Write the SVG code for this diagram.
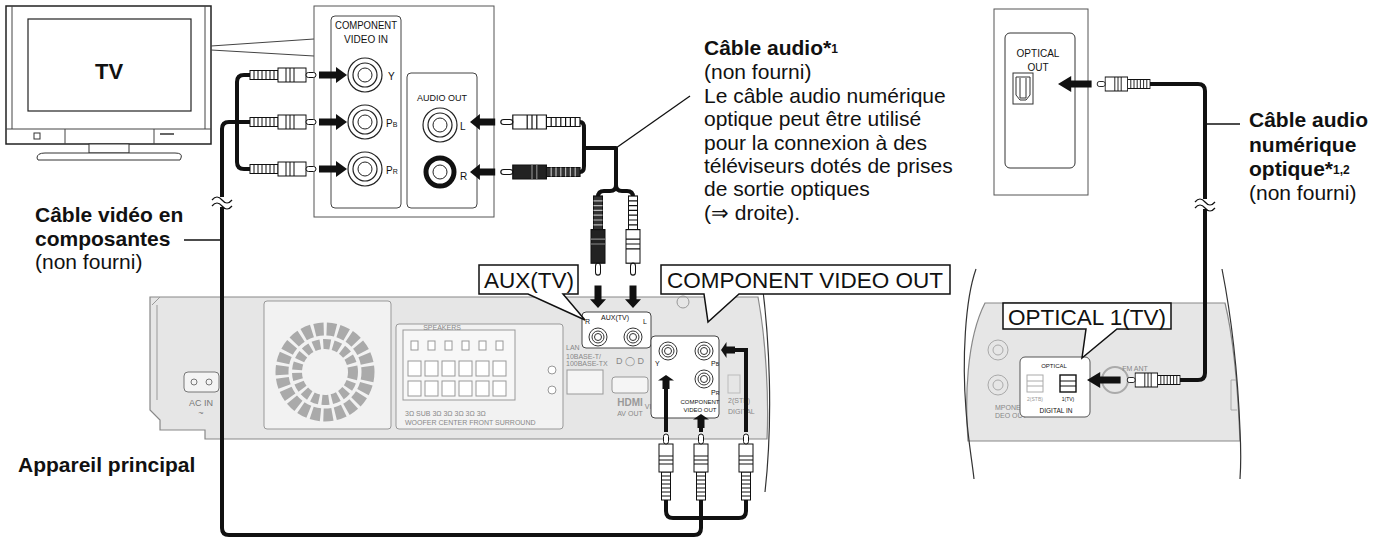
<svg xmlns="http://www.w3.org/2000/svg" xmlns:xlink="http://www.w3.org/1999/xlink" width="1379" height="540" viewBox="0 0 1379 540">
<style>
text{font-family:"Liberation Sans",Arial,sans-serif;fill:#111}
.b{font-weight:bold}
.lbl{font-size:21px}
.sm{font-size:10px}
.tiny{font-size:7px;fill:#888}
.dev{fill:#e6e6e6;stroke:#888;stroke-width:1.2}
.dp{fill:#f2f2f2;stroke:#999;stroke-width:1}
.cab{fill:none;stroke:#111;stroke-width:4;stroke-linejoin:round;stroke-linecap:butt}
.thin{fill:none;stroke:#111;stroke-width:1.3}
.call{fill:#fff;stroke:#111;stroke-width:1.5}
.big{font-size:22.5px}
</style>
<defs>
<g id="plug">
<rect x="0" y="-4.5" width="28" height="9" fill="#fff" stroke="#111"/>
<path d="M4,-4.5v9M8,-4.5v9M12,-4.5v9M16,-4.5v9M20,-4.5v9M24,-4.5v9" stroke="#111" stroke-width="1"/>
<rect x="28" y="-7" width="28" height="14" fill="#fff" stroke="#111"/>
<path d="M36,-7v14M40,-7v14M44,-7v14" stroke="#111"/>
<rect x="56" y="-2.5" width="10" height="5" rx="2.5" fill="#fff" stroke="#111"/>
</g>
<g id="plugB">
<rect x="0" y="-4.5" width="28" height="9" fill="#333" stroke="#111"/>
<path d="M4,-4.5v9M8,-4.5v9M12,-4.5v9M16,-4.5v9M20,-4.5v9M24,-4.5v9" stroke="#bbb" stroke-width="1"/>
<rect x="28" y="-7" width="28" height="14" fill="#222" stroke="#111"/>
<path d="M36,-7v14M40,-7v14" stroke="#888"/>
<rect x="56" y="-2.5" width="10" height="5" rx="2.5" fill="#fff" stroke="#111"/>
</g>
<polygon id="arr" points="-28,-3.5 -11,-3.5 -11,-8 0,0 -11,8 -11,3.5 -28,3.5" fill="#111"/>
<g id="jack">
<circle r="17" fill="#fff" stroke="#222" stroke-width="1.2"/>
<circle r="12" fill="none" stroke="#222" stroke-width="1.2"/>
<circle r="7" fill="none" stroke="#222" stroke-width="1"/>
</g>
<g id="jk">
<circle r="9" fill="#fff" stroke="#333" stroke-width="1"/>
<circle r="6" fill="none" stroke="#333"/>
<circle r="3.5" fill="none" stroke="#333"/>
</g>
</defs>

<!-- TV -->
<g id="tv">
<rect x="6" y="6" width="205" height="138" fill="#fff" stroke="#222" stroke-width="1.5"/>
<path d="M12,6v123M205,6v123M6,129h205M65,129v15M154,129v15" stroke="#444" fill="none"/>
<rect x="28" y="19" width="163" height="92" fill="#fff" stroke="#222" stroke-width="1.2"/>
<rect x="34" y="133" width="6" height="6" fill="none" stroke="#333"/>
<path d="M160,134h14" stroke="#333" stroke-width="1.5"/>
<rect x="89" y="144" width="40" height="9" fill="#fff" stroke="#333"/>
<path d="M45,153H175Q183,153 181,158L180,160H38L37,158Q37,153 45,153Z" fill="#fff" stroke="#333"/>
<text x="109" y="79" text-anchor="middle" class="b" font-size="22">TV</text>
</g>

<!-- TV panel callout -->
<g id="tvpanel">
<path d="M211,46L314,39M211,50L314,56" stroke="#444" fill="none"/>
<rect x="314" y="6" width="180" height="211" fill="#fff" stroke="#555"/>
<rect x="331" y="16" width="70" height="192" rx="4" fill="#fff" stroke="#444"/>
<text x="366" y="29" text-anchor="middle" class="sm" textLength="62" lengthAdjust="spacingAndGlyphs">COMPONENT</text>
<text x="366" y="43" text-anchor="middle" class="sm">VIDEO IN</text>
<use href="#jack" x="365" y="75"/>
<use href="#jack" x="365" y="122"/>
<use href="#jack" x="365" y="169"/>
<text x="388" y="80" class="sm">Y</text>
<text x="386" y="127" class="sm">P<tspan font-size="7">B</tspan></text>
<text x="386" y="174" class="sm">P<tspan font-size="7">R</tspan></text>
<rect x="407" y="73" width="70" height="135" rx="4" fill="#fff" stroke="#444"/>
<text x="442" y="101" text-anchor="middle" font-size="9">AUDIO OUT</text>
<use href="#jack" x="440" y="125"/>
<circle cx="440" cy="172" r="14" fill="#fff" stroke="#111" stroke-width="5"/>
<circle cx="440" cy="172" r="7" fill="none" stroke="#222"/>
<text x="460" y="130" class="sm">L</text>
<text x="460" y="180" class="sm">R</text>
</g>

<!-- main unit -->
<g id="unit">
<path class="dev" d="M150,297H758C766,340 769,400 767,439H205V430H160L160,420L150,410Z"/>
<path d="M761,275C770,340 773,420 765,492" fill="none" stroke="#333" stroke-width="1.2"/>
<path d="M157,305v95M160,297l-8,8" stroke="#999" fill="none"/>
<rect x="184" y="372" width="35" height="20" rx="4" fill="#f4f4f4" stroke="#777"/>
<circle cx="194" cy="382" r="3" fill="none" stroke="#777"/><circle cx="209" cy="382" r="3" fill="none" stroke="#777"/>
<text x="201" y="406" text-anchor="middle" font-size="9" style="fill:#777">AC IN</text>
<text x="201" y="416" text-anchor="middle" font-size="9" style="fill:#777">~</text>
<rect x="264" y="301" width="127" height="128" rx="3" class="dp"/>
<circle cx="325" cy="372" r="43" fill="none" stroke="#aaa" stroke-width="13" stroke-dasharray="9 3"/>
<circle cx="325" cy="372" r="28" fill="none" stroke="#aaa" stroke-width="10" stroke-dasharray="7 3"/>
<rect x="396" y="324" width="167" height="105" rx="3" class="dp"/>
<rect x="403" y="330" width="112" height="70" fill="#f7f7f7" stroke="#999"/>
<text x="442" y="330" text-anchor="middle" class="tiny">SPEAKERS</text>
<g fill="#fff" stroke="#999">
<rect x="411" y="341" width="7" height="9"/><rect x="428" y="341" width="7" height="9"/><rect x="445" y="341" width="7" height="9"/><rect x="462" y="341" width="7" height="9"/><rect x="479" y="341" width="7" height="9"/><rect x="496" y="341" width="7" height="9"/>
<rect x="408" y="361" width="13" height="15"/><rect x="425" y="361" width="13" height="15"/><rect x="442" y="361" width="13" height="15"/><rect x="459" y="361" width="13" height="15"/><rect x="476" y="361" width="13" height="15"/><rect x="493" y="361" width="13" height="15"/>
<rect x="408" y="381" width="13" height="15"/><rect x="425" y="381" width="13" height="15"/><rect x="442" y="381" width="13" height="15"/><rect x="459" y="381" width="13" height="15"/><rect x="476" y="381" width="13" height="15"/><rect x="493" y="381" width="13" height="15"/>
<circle cx="552" cy="370" r="4"/><circle cx="552" cy="390" r="4"/>
</g>
<text x="405" y="416" class="tiny">3Ω SUB 3Ω  3Ω  3Ω  3Ω  3Ω</text>
<text x="405" y="425" class="tiny">WOOFER CENTER FRONT SURROUND</text>
<text x="566" y="350" class="tiny">LAN</text>
<text x="566" y="359" class="tiny">10BASE-T/</text>
<text x="566" y="366" class="tiny">100BASE-TX</text>
<rect x="567" y="370" width="36" height="24" fill="#f5f5f5" stroke="#999"/>
<text x="630" y="364" text-anchor="middle" font-size="9" style="fill:#888">D ◯ D</text>
<rect x="612" y="377" width="36" height="16" rx="3" fill="#f5f5f5" stroke="#999"/>
<text x="630" y="406" text-anchor="middle" font-size="10" font-weight="bold" style="fill:#999">HDMI</text>
<text x="630" y="416" text-anchor="middle" class="tiny">AV OUT</text>
<rect x="582" y="312" width="69" height="36" rx="4" fill="#fff" stroke="#444"/>
<text x="615" y="320" text-anchor="middle" font-size="7">AUX(TV)</text>
<text x="585" y="324" font-size="7">R</text><text x="643" y="324" font-size="7">L</text>
<use href="#jk" x="598" y="337"/><use href="#jk" x="633" y="337"/>
<circle cx="668" cy="381" r="10" fill="#ddd" stroke="#999"/>
<text x="664" y="409" text-anchor="middle" class="tiny">VIDEO OUT</text>
<rect x="651" y="336" width="68" height="82" rx="4" fill="#fff" stroke="#444"/>
<use href="#jk" x="668" y="351"/><use href="#jk" x="704" y="351"/><use href="#jk" x="704" y="379"/>
<text x="655" y="366" font-size="7">Y</text>
<text x="711" y="366" font-size="7">P<tspan font-size="5">B</tspan></text>
<text x="711" y="395" font-size="7">P<tspan font-size="5">R</tspan></text>
<text x="700" y="404" text-anchor="middle" font-size="6">COMPONENT</text>
<text x="700" y="412" text-anchor="middle" font-size="6">VIDEO OUT</text>
<rect x="728" y="375" width="12" height="18" fill="none" stroke="#bbb"/>
<text x="728" y="403" class="tiny">2(STB)</text>
<text x="728" y="414" class="tiny">DIGITAL</text>
<circle cx="683" cy="302" r="6" fill="none" stroke="#999"/>
</g>

<!-- right unit -->
<g id="unit2">
<path class="dev" d="M985,303H1225C1234,340 1238,390 1240,441H968C965,400 966,340 985,303Z" stroke="none"/>
<path d="M976,269C965,300 962,360 966,410C968,440 972,460 974,479" fill="none" stroke="#333" stroke-width="1.2"/>
<path d="M1222,269C1232,320 1238,380 1240,430C1241,450 1241,465 1240,479" fill="none" stroke="#333" stroke-width="1.2"/>
<path d="M1236,380h-5v30h6" fill="none" stroke="#aaa"/>
<circle cx="998" cy="350" r="10" fill="none" stroke="#aaa"/><circle cx="998" cy="350" r="5" fill="none" stroke="#aaa"/>
<circle cx="998" cy="385" r="10" fill="none" stroke="#aaa"/><circle cx="998" cy="385" r="5" fill="none" stroke="#aaa"/>
<text x="995" y="410" class="tiny">MPONENT</text><text x="995" y="418" class="tiny">DEO OUT</text>
<circle cx="1115" cy="380" r="13" fill="none" stroke="#aaa" stroke-width="2"/>
<text x="1135" y="371" text-anchor="middle" class="tiny">FM ANT</text>
<rect x="1020" y="357" width="70" height="60" rx="5" fill="#fff" stroke="#555"/>
<text x="1054" y="368" text-anchor="middle" font-size="6">OPTICAL</text>
<rect x="1027" y="375" width="16" height="17" fill="#fff" stroke="#aaa"/>
<path d="M1027,381h16M1027,386h16" stroke="#aaa"/>
<rect x="1060" y="375" width="16" height="17" fill="#fff" stroke="#111" stroke-width="1.4"/>
<path d="M1060,381h16M1060,386h16" stroke="#111"/>
<text x="1035" y="401" text-anchor="middle" font-size="5" style="fill:#999">2(STB)</text>
<text x="1068" y="401" text-anchor="middle" font-size="5">1(TV)</text>
<text x="1056" y="413" text-anchor="middle" font-size="6.5">DIGITAL IN</text>
<path class="call" d="M1003,303H1171V329H1117L1082,358L1086,329H1003Z"/>
<text x="1087" y="325" text-anchor="middle" class="big">OPTICAL 1(TV)</text>
</g>

<!-- TV optical -->
<g id="tvopt">
<rect x="994" y="9" width="94" height="186" fill="#fff" stroke="#555"/>
<rect x="1005" y="33" width="70" height="135" rx="5" fill="#fff" stroke="#333"/>
<text x="1038" y="57" text-anchor="middle" class="sm">OPTICAL</text>
<text x="1038" y="71" text-anchor="middle" class="sm">OUT</text>
<rect x="1013" y="73" width="20" height="31" fill="#fff" stroke="#333"/>
<path d="M1016,77h14v18l-4,5h-6l-4,-5Z M1020,78v20h6v-20" fill="none" stroke="#333"/>
</g>

<!-- callout labels -->
<g id="callouts">
<path class="call" d="M479,265H578V294H563L585,320L528,294H479Z"/>
<text x="529" y="288" text-anchor="middle" class="big">AUX(TV)</text>
<path class="call" d="M661,265H950V294H739L708,322L704,294H661Z"/>
<text x="805" y="288" text-anchor="middle" class="big">COMPONENT VIDEO OUT</text>
</g>

<!-- connectors -->
<g id="connectors">
<path class="cab" d="M250,75H244Q237,75 237,82V162Q237,169 244,169H250"/>
<path class="cab" d="M250,122H229Q222,122 222,129V528Q222,535 229,535H694Q701,535 701,528V500"/>
<path class="cab" d="M666,500V511Q666,518 673,518H739Q746,518 746,511V500"/>
<use href="#plug" transform="translate(250,75)"/>
<use href="#plug" transform="translate(250,122)"/>
<use href="#plug" transform="translate(250,169)"/>
<use href="#arr" transform="translate(347,75)"/>
<use href="#arr" transform="translate(347,122)"/>
<use href="#arr" transform="translate(347,169)"/>
<path class="cab" d="M580,122Q584,122 584,128V166Q584,172 580,172M584,148H616V185Q616,191 610,191H604Q598,191 598,197M616,185Q616,191 622,191H627Q633,191 633,197"/>
<use href="#plug" transform="translate(580,122) scale(-1.2,1)"/>
<use href="#plugB" transform="translate(580,172) scale(-1.2,1)"/>
<use href="#arr" transform="translate(470,122) scale(-0.9,1)"/>
<use href="#arr" transform="translate(470,172) scale(-0.9,1)"/>
<use href="#plugB" transform="translate(598,196) rotate(90) scale(1.2,1)"/>
<use href="#plug" transform="translate(633,196) rotate(90) scale(1.2,1)"/>
<use href="#arr" transform="translate(598,308) rotate(90) scale(0.8,1)"/>
<use href="#arr" transform="translate(633,308) rotate(90) scale(0.8,1)"/>
<path class="thin" d="M616,148L690,96"/>
<use href="#plug" transform="translate(666,500) rotate(-90)"/>
<use href="#plug" transform="translate(701,500) rotate(-90)"/>
<use href="#plug" transform="translate(746,500) rotate(-90)"/>
<path d="M666,432V380M701,432V418M746,432V350H730" stroke="#111" stroke-width="4" fill="none"/>
<use href="#arr" transform="translate(666,375) rotate(-90) scale(0.5,1)"/>
<use href="#arr" transform="translate(701,414) rotate(-90) scale(0.5,1)"/>
<use href="#arr" transform="translate(721,350) rotate(180) scale(0.5,1)"/>
<path class="thin" d="M184,240H222"/>
<path class="cab" d="M1150,84H1198Q1205,84 1205,91V373Q1205,380 1198,380H1180"/>
<use href="#plug" transform="translate(1150,84) scale(-0.8,1)"/>
<use href="#plug" transform="translate(1180,380) scale(-0.8,1)"/>
<use href="#arr" transform="translate(1058,84) scale(-1.2,1)"/>
<use href="#arr" transform="translate(1087,380) scale(-1.2,1)"/>
<path class="thin" d="M1207,124H1240"/>
<rect x="212" y="197" width="20" height="10" fill="#fff"/>
<path d="M212,200q5,-6 10,0t10,0M212,206q5,-6 10,0t10,0" fill="none" stroke="#111" stroke-width="1.2"/>
<rect x="1195" y="199" width="20" height="10" fill="#fff"/>
<path d="M1195,202q5,-6 10,0t10,0M1195,208q5,-6 10,0t10,0" fill="none" stroke="#111" stroke-width="1.2"/>
</g>

<!-- texts -->
<g id="labels">
<text x="35" y="222" class="b lbl">Câble vidéo en</text>
<text x="35" y="246" class="b lbl">composantes</text>
<text x="35" y="269" class="lbl">(non fourni)</text>
<text x="18" y="472" class="b lbl">Appareil principal</text>
<text x="704" y="55" class="b lbl">Câble audio*<tspan font-size="12" dy="-2">1</tspan></text>
<text x="704" y="79" class="lbl">(non fourni)</text>
<text x="704" y="103" class="lbl">Le câble audio numérique</text>
<text x="704" y="126" class="lbl">optique peut être utilisé</text>
<text x="704" y="150" class="lbl">pour la connexion à des</text>
<text x="704" y="173" class="lbl">téléviseurs dotés de prises</text>
<text x="704" y="196" class="lbl">de sortie optiques</text>
<text x="704" y="220" class="lbl">(⇒ droite).</text>
<text x="1249" y="127" class="b lbl">Câble audio</text>
<text x="1249" y="152" class="b lbl">numérique</text>
<text x="1249" y="176" class="b lbl">optique*<tspan font-size="12" dy="-2">1,2</tspan></text>
<text x="1249" y="200" class="lbl">(non fourni)</text>
</g>
</svg>
